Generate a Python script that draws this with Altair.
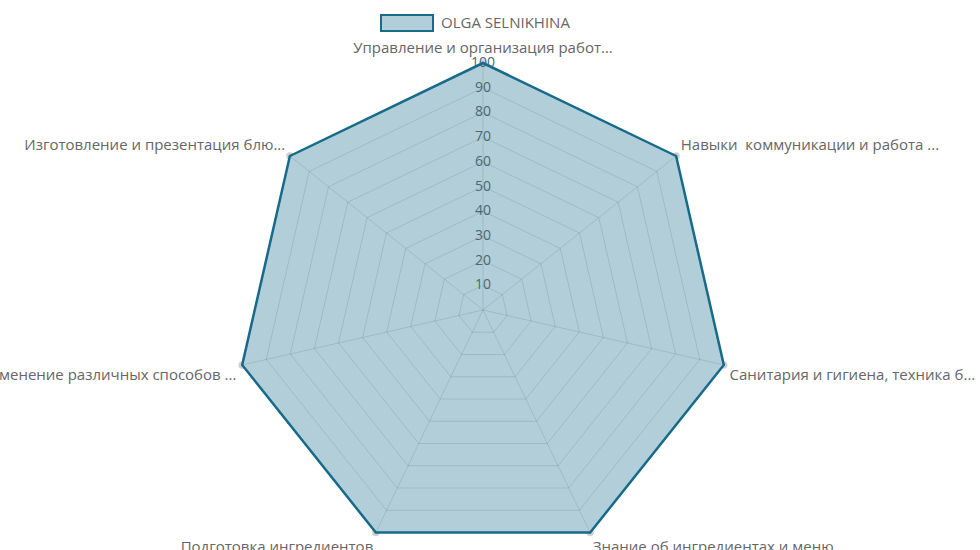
import altair as alt
import pandas as pd

# ---- data ----
categories = [
    "Управление и организация работ...",
    "Навыки \u00a0коммуникации и работа ...",
    "Санитария и гигиена, техника б...",
    "Знание об ингредиентах и меню",
    "Подготовка ингредиентов",
    "Применение различных способов ...",
    "Изготовление и презентация блю...",
]
values = [100, 100, 100, 100, 100, 100, 100]
ticks = [10, 20, 30, 40, 50, 60, 70, 80, 90, 100]
series_name = "OLGA SELNIKHINA"
max_value = 100

# ---- layout ----
W, H = 980, 550
CX, CY = 483, 310
PX_PER_UNIT = 2.47
LABEL_R = 102.4

n = len(categories)
axes_df = pd.DataFrame({"idx": list(range(n)), "category": categories,
                        "value": values, "series": [series_name] * n})
grid_df = pd.DataFrame([{"idx": i, "tick": t} for t in ticks for i in range(n)])
tick_df = pd.DataFrame({"tick": ticks, "label": [str(t) for t in ticks]})

xs = alt.Scale(domain=[-CX / PX_PER_UNIT, (W - CX) / PX_PER_UNIT], nice=False, zero=False)
ys = alt.Scale(domain=[(CY - H) / PX_PER_UNIT, CY / PX_PER_UNIT], nice=False, zero=False)

ANG = f"2*PI*datum.idx/{n}"
FONT = "Open Sans"
MAIN = "#166a8a"
FILL_LIGHT = "#b2cfd9"
TEXT = "#666666"
TICK_TEXT = "#4b6772"

def X(f):
    return alt.X(f, type="quantitative", scale=xs, axis=None)

def Y(f):
    return alt.Y(f, type="quantitative", scale=ys, axis=None)

points = alt.Chart(axes_df).transform_calculate(
    ang=ANG,
    px="datum.value*sin(datum.ang)",
    py="datum.value*cos(datum.ang)",
).mark_point(filled=True, size=55, color="#cfcfcf", opacity=1).encode(x=X("px"), y=Y("py"))

polygon_fill = alt.Chart(axes_df).transform_calculate(
    ang=ANG,
    px="datum.value*sin(datum.ang)",
    py="datum.value*cos(datum.ang)",
).mark_line(interpolate="linear-closed", strokeOpacity=0, fillOpacity=1).encode(
    x=X("px"), y=Y("py"), order="idx:Q",
    fill=alt.Fill("series:N", scale=alt.Scale(range=[FILL_LIGHT]), legend=alt.Legend(
        title=None, orient="none", legendX=380, legendY=-4, padding=0,
        symbolType="M-1,-0.3077H1V0.3077H-1Z", symbolSize=2704,
        symbolStrokeColor=MAIN, symbolStrokeWidth=2,
        labelFont=FONT, labelFontSize=15, labelColor=TEXT, labelOffset=7,
    )),
)

rings = alt.Chart(grid_df).transform_calculate(
    ang=ANG,
    gx="datum.tick*sin(datum.ang)",
    gy="datum.tick*cos(datum.ang)",
).mark_line(interpolate="linear-closed", stroke="#000", strokeOpacity=0.1, strokeWidth=1).encode(
    x=X("gx"), y=Y("gy"), detail="tick:N", order="idx:Q"
)

spokes = alt.Chart(axes_df).transform_calculate(
    ang=ANG,
    ax=f"{max_value}*sin(datum.ang)",
    ay=f"{max_value}*cos(datum.ang)",
    zero="0",
).mark_rule(stroke="#000", strokeOpacity=0.1, strokeWidth=1).encode(
    x=X("ax"), y=Y("ay"), x2="zero:Q", y2="zero:Q"
)

tick_labels = alt.Chart(tick_df).transform_calculate(zero="0").mark_text(
    font=FONT, fontSize=14, color=TICK_TEXT, align="center", baseline="middle"
).encode(x=X("zero"), y=Y("tick"), text="label:N")

outline = alt.Chart(axes_df).transform_calculate(
    ang=ANG,
    px="datum.value*sin(datum.ang)",
    py="datum.value*cos(datum.ang)",
).mark_line(interpolate="linear-closed", stroke=MAIN, strokeWidth=2.5).encode(
    x=X("px"), y=Y("py"), order="idx:Q",
)

base_lbl = alt.Chart(axes_df).transform_calculate(
    ang=ANG,
    s="sin(datum.ang)",
    c="cos(datum.ang)",
    lx=f"{LABEL_R}*sin(datum.ang)",
    ly=f"{LABEL_R}*cos(datum.ang)",
)

def label_layer(cond, align, baseline, dy=0):
    return base_lbl.transform_filter(cond).mark_text(
        font=FONT, fontSize=15, color=TEXT, align=align, baseline=baseline, dy=dy
    ).encode(x=X("lx"), y=Y("ly"), text="category:N")

labels = [
    label_layer("abs(datum.s) < 0.01 && datum.c > 0", "center", "bottom", -1),
    label_layer("abs(datum.s) < 0.01 && datum.c < 0", "center", "top", 2),
    label_layer("datum.s >= 0.01 && datum.c >= 0", "left", "bottom", 1),
    label_layer("datum.s >= 0.01 && datum.c < 0", "left", "top", 2),
    label_layer("datum.s <= -0.01 && datum.c >= 0", "right", "bottom", 1),
    label_layer("datum.s <= -0.01 && datum.c < 0", "right", "top", 2),
]

chart = alt.layer(points, polygon_fill, rings, spokes, tick_labels, outline, *labels).properties(
    width=W, height=H, padding=0, autosize=alt.AutoSizeParams(type="none"),
    background="white",
).configure_view(stroke=None)

chart.save("out.html", embed_options={"renderer": "svg", "actions": False})
